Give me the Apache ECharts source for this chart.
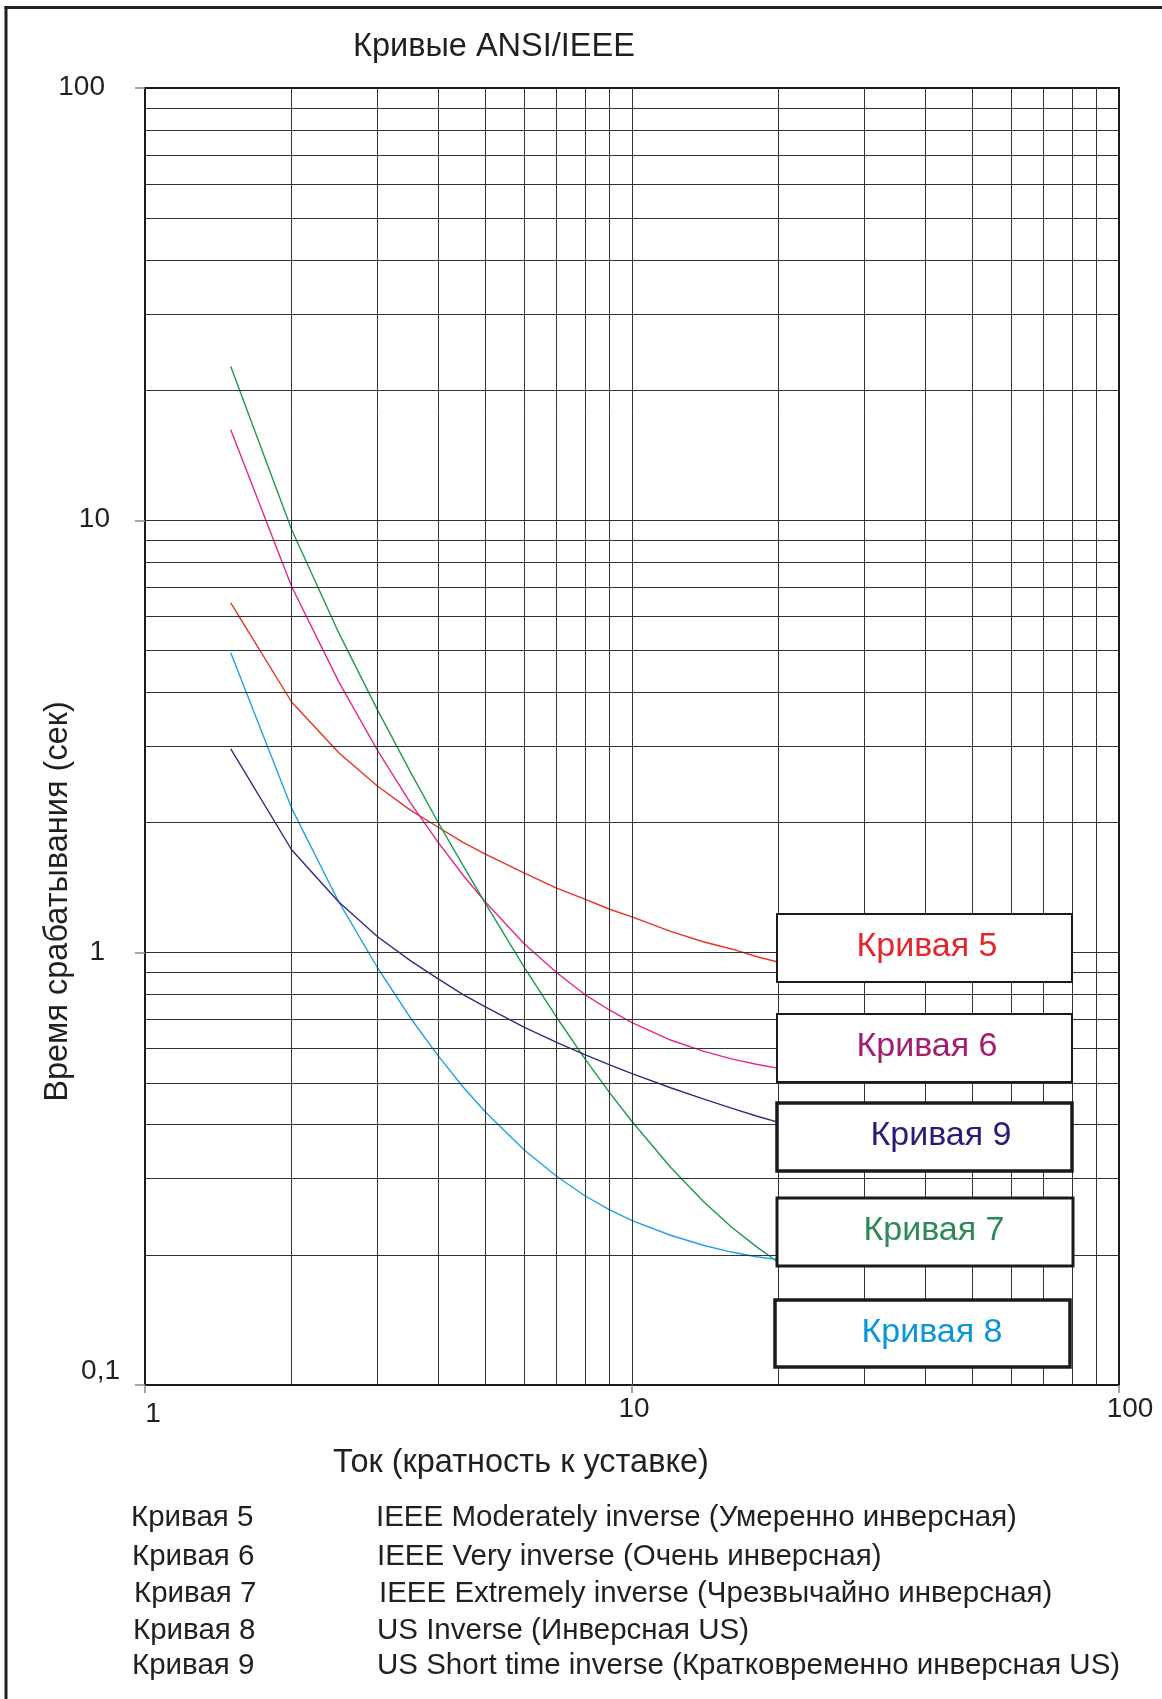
<!DOCTYPE html>
<html>
<head>
<meta charset="utf-8">
<script src="https://cdn.jsdelivr.net/npm/echarts@6/dist/echarts.min.js"></script>
<style>
html,body{margin:0;padding:0;background:#fff;}
#chart{width:1162px;height:1699px;}
</style>
</head>
<body>
<div id="chart"></div>
<script>
// ---- data ----
var currents = [1.5, 2, 2.5, 3, 3.5, 4, 4.5, 5, 6, 7, 8, 9, 10, 12, 14, 16, 18, 20];
var curve5 = [6.44, 3.80, 2.90, 2.43, 2.14, 1.95, 1.80, 1.69, 1.53, 1.41, 1.33, 1.26, 1.21, 1.12, 1.06, 1.02, 0.98, 0.95];
var curve6 = [16.2, 7.03, 4.23, 2.94, 2.23, 1.80, 1.51, 1.31, 1.05, 0.90, 0.80, 0.736, 0.689, 0.628, 0.592, 0.568, 0.552, 0.540];
var curve7 = [22.7, 9.52, 5.49, 3.65, 2.63, 2.00, 1.59, 1.30, 0.927, 0.709, 0.569, 0.474, 0.407, 0.319, 0.266, 0.232, 0.209, 0.192];
var curve8 = [4.94, 2.16, 1.31, 0.924, 0.709, 0.577, 0.489, 0.428, 0.350, 0.304, 0.274, 0.254, 0.240, 0.222, 0.2105, 0.203, 0.198, 0.195];
var curve9 = [2.96, 1.73, 1.31, 1.09, 0.96, 0.87, 0.80, 0.749, 0.673, 0.620, 0.581, 0.550, 0.525, 0.487, 0.459, 0.437, 0.419, 0.405];

var curveNames = ['Кривая 5', 'Кривая 6', 'Кривая 7', 'Кривая 8', 'Кривая 9'];
var curveDescriptions = [
  'IEEE Moderately inverse (Умеренно инверсная)',
  'IEEE Very inverse (Очень инверсная)',
  'IEEE Extremely inverse (Чрезвычайно инверсная)',
  'US Inverse (Инверсная US)',
  'US Short time inverse (Кратковременно инверсная US)'
];
var xGridValues = [2, 3, 4, 5, 6, 7, 8, 9, 10, 20, 30, 40, 50, 60, 70, 80, 90];
var yGridValues = [0.2, 0.3, 0.4, 0.5, 0.6, 0.7, 0.8, 0.9, 1, 2, 3, 4, 5, 6, 7, 8, 9, 10, 20, 30, 40, 50, 60, 70, 80, 90];
var titleText = 'Кривые ANSI/IEEE';
var xName = 'Ток (кратность к уставке)';
var yName = 'Время срабатывания (сек)';

// ---- styles ----
var FONT = 'Liberation Sans, Arial, Helvetica, sans-serif';
var INK = '#231f20';
var lineColors = ['#e8332a', '#e9268a', '#1c9b4b', '#1fa2e8', '#2f2d83'];
var curveSeries = [curve5, curve6, curve7, curve8, curve9];

function zip(xs, ys) { return xs.map(function (x, i) { return [x, ys[i]]; }); }

var chart = echarts.init(document.getElementById('chart'), null, {renderer: 'canvas'});

var series = [];
// grid lines via markLine on a dummy series
series.push({
  type: 'line', data: [], z: 1, silent: true,
  markLine: {
    silent: true, symbol: ['none', 'none'], animation: false,
    label: {show: false},
    lineStyle: {color: '#333333', width: 1, type: 'solid'},
    emphasis: {disabled: true},
    data: xGridValues.map(function (v) { return {xAxis: v}; })
      .concat(yGridValues.map(function (v) { return {yAxis: v}; }))
  }
});
curveSeries.forEach(function (vals, i) {
  series.push({
    name: curveNames[i], type: 'line', z: 3,
    data: zip(currents, vals),
    showSymbol: false, symbol: 'none', smooth: false,
    lineStyle: {color: lineColors[i], width: 1.4},
    emphasis: {disabled: true}
  });
});

// boxes with curve labels
var boxes = [
  {name: curveNames[0], x: 777, y: 914, w: 295, h: 68, bw: 2, color: '#e3262b', tx: 927},
  {name: curveNames[1], x: 777, y: 1014, w: 295, h: 68, bw: 2, color: '#a31c70', tx: 927},
  {name: curveNames[4], x: 777, y: 1103, w: 295, h: 68, bw: 3.5, color: '#2a1b7a', tx: 941},
  {name: curveNames[2], x: 777, y: 1198, w: 296, h: 68, bw: 3, color: '#2b8a57', tx: 934},
  {name: curveNames[3], x: 775, y: 1300, w: 295, h: 67, bw: 3.5, color: '#0a96d8', tx: 932}
];
var graphics = [];
boxes.forEach(function (b) {
  graphics.push({
    type: 'rect', z: 100, silent: true,
    shape: {x: b.x, y: b.y, width: b.w, height: b.h},
    style: {fill: '#fff', stroke: '#1a1a1a', lineWidth: b.bw}
  });
  graphics.push({
    type: 'text', z: 101, silent: true,
    x: b.tx, y: b.y + b.h / 2 - 1,
    style: {text: b.name, fill: b.color, font: '34px ' + FONT, textAlign: 'center', textVerticalAlign: 'middle'}
  });
});
// bottom description table
var rowY = [1518, 1557, 1594, 1631, 1666];
var col1X = [131, 132, 134, 133, 132];
var col2X = [376, 377, 379, 377, 377];
curveNames.forEach(function (n, i) {
  graphics.push({type: 'text', z: 100, silent: true, x: col1X[i], y: rowY[i],
    style: {text: n, fill: INK, font: '29.5px ' + FONT, textAlign: 'left', textVerticalAlign: 'middle'}});
  graphics.push({type: 'text', z: 100, silent: true, x: col2X[i], y: rowY[i],
    style: {text: curveDescriptions[i], fill: INK, font: '29.5px ' + FONT, textAlign: 'left', textVerticalAlign: 'middle'}});
});
// outer frame (top and left edges)
graphics.push({type: 'line', z: 100, silent: true, shape: {x1: 4.5, y1: 7.5, x2: 1162, y2: 7.5}, style: {stroke: INK, lineWidth: 3}});
graphics.push({type: 'line', z: 100, silent: true, shape: {x1: 6, y1: 6, x2: 6, y2: 1699}, style: {stroke: INK, lineWidth: 3}});

var option = {
  backgroundColor: '#fff',
  animation: false,
  title: {
    text: titleText, left: 353, top: 31, padding: 0,
    textStyle: {fontFamily: FONT, fontSize: 32.5, fontWeight: 'normal', color: INK}
  },
  grid: {
    left: 145, top: 88, width: 974, height: 1297,
    show: true, borderColor: '#1a1a1a', borderWidth: 2, backgroundColor: 'transparent'
  },
  xAxis: {
    type: 'log', logBase: 10, min: 1, max: 100,
    name: xName, nameLocation: 'middle', nameGap: 62, nameMoveOverlap: false,
    nameTextStyle: {fontFamily: FONT, fontSize: 32.5, color: INK, padding: [0, 222, 0, 0]},
    axisLine: {show: true, lineStyle: {color: '#1a1a1a', width: 2}},
    axisTick: {show: true, length: 8, lineStyle: {color: '#888', width: 1.5}},
    splitLine: {show: false},
    axisLabel: {
      margin: 10, fontFamily: FONT, fontSize: 28, color: INK,
      formatter: function (v) {
        var r = Math.round(v);
        if (r === 1) return '{a|1}';
        if (r === 10) return '{b|10}';
        return '{c|100}';
      },
      rich: {
        a: {fontFamily: FONT, fontSize: 28, color: INK, padding: [5, 0, 0, 16]},
        b: {fontFamily: FONT, fontSize: 28, color: INK, padding: [0, 0, 0, 4]},
        c: {fontFamily: FONT, fontSize: 28, color: INK, padding: [0, 0, 0, 22]}
      }
    }
  },
  yAxis: {
    type: 'log', logBase: 10, min: 0.1, max: 100,
    name: yName, nameLocation: 'middle', nameGap: 70, nameRotate: 90, nameMoveOverlap: false,
    nameTextStyle: {fontFamily: FONT, fontSize: 32.5, color: INK, padding: [0, 330, 0, 0]},
    axisLine: {show: true, lineStyle: {color: '#1a1a1a', width: 2}},
    axisTick: {show: true, length: 10, lineStyle: {color: '#888', width: 1.5}},
    splitLine: {show: false},
    axisLabel: {
      margin: 25, fontFamily: FONT, fontSize: 28, color: INK,
      formatter: function (v) {
        if (v < 0.5) return '{d|0,1}';
        if (v < 5) return '{c|1}';
        if (v < 50) return '{b|10}';
        return '{a|100}';
      },
      rich: {
        a: {fontFamily: FONT, fontSize: 28, color: INK, padding: [0, 15, 2, 0]},
        b: {fontFamily: FONT, fontSize: 28, color: INK, padding: [0, 10, 2, 0]},
        c: {fontFamily: FONT, fontSize: 28, color: INK, padding: [0, 15, 0, 0]},
        d: {fontFamily: FONT, fontSize: 28, color: INK, padding: [0, 0, 28, 0]}
      }
    }
  },
  series: series,
  graphic: graphics
};
chart.setOption(option);
</script>
</body>
</html>
